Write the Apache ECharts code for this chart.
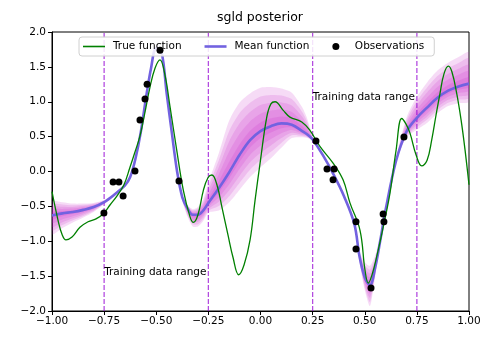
<!DOCTYPE html>
<html>
<head>
<meta charset="utf-8">
<script src="https://cdn.jsdelivr.net/npm/echarts@6/dist/echarts.min.js"></script>
<style>
html, body { margin: 0; padding: 0; background: #fff; }
#chart { width: 498px; height: 343px; }
</style>
</head>
<body>
<div id="chart"></div>
<script>
// posterior mean and spread of the band (outer layer)
const gridX = [-1, -0.95, -0.9, -0.85, -0.8, -0.75, -0.7, -0.65, -0.625, -0.6, -0.575, -0.55, -0.525, -0.5, -0.475, -0.45, -0.425, -0.4, -0.375, -0.35, -0.325, -0.3, -0.275, -0.25, -0.2, -0.15, -0.1, -0.05, 0, 0.05, 0.1, 0.15, 0.2, 0.225, 0.25, 0.3, 0.35, 0.4, 0.45, 0.475, 0.5, 0.525, 0.55, 0.575, 0.6, 0.65, 0.7, 0.75, 0.8, 0.85, 0.9, 0.95, 1];
const meanY = [-0.63, -0.60, -0.58, -0.55, -0.51, -0.44, -0.33, -0.20, -0.08, 0.18, 0.55, 1.04, 1.48, 1.77, 1.72, 1.12, 0.55, 0.0, -0.37, -0.53, -0.62, -0.62, -0.56, -0.45, -0.24, -0.01, 0.24, 0.45, 0.58, 0.65, 0.69, 0.67, 0.58, 0.53, 0.46, 0.23, -0.04, -0.35, -0.75, -1.22, -1.52, -1.63, -1.38, -0.98, -0.55, 0.15, 0.57, 0.77, 0.92, 1.06, 1.16, 1.22, 1.26];
const spreadUp = [0.20, 0.16, 0.12, 0.09, 0.06, 0.03, 0.02, 0.02, 0.02, 0.02, 0.02, 0.02, 0.02, 0.03, 0.02, 0.02, 0.02, 0.02, 0.03, 0.05, 0.08, 0.11, 0.16, 0.29, 0.50, 0.74, 0.75, 0.67, 0.62, 0.56, 0.50, 0.46, 0.34, 0.22, 0.05, 0.02, 0.02, 0.02, 0.03, 0.08, 0.22, 0.28, 0.18, 0.06, 0.03, 0.04, 0.20, 0.30, 0.36, 0.39, 0.40, 0.42, 0.45];
const spreadDown = [0.27, 0.21, 0.15, 0.11, 0.07, 0.03, 0.02, 0.02, 0.02, 0.02, 0.02, 0.02, 0.02, 0.02, 0.02, 0.02, 0.02, 0.02, 0.05, 0.12, 0.17, 0.17, 0.15, 0.14, 0.32, 0.43, 0.50, 0.53, 0.52, 0.46, 0.35, 0.19, 0.09, 0.05, 0.02, 0.02, 0.02, 0.02, 0.03, 0.08, 0.18, 0.30, 0.12, 0.04, 0.03, 0.03, 0.08, 0.17, 0.22, 0.22, 0.22, 0.24, 0.26];
const bandLevels = [1, 0.8, 0.6, 0.4, 0.2];

// true function
const trueX = [-1.0, -0.971, -0.952, -0.933, -0.904, -0.866, -0.827, -0.789, -0.755, -0.722, -0.688, -0.655, -0.626, -0.602, -0.578, -0.554, -0.53, -0.506, -0.482, -0.458, -0.434, -0.402, -0.37, -0.338, -0.322, -0.3, -0.274, -0.252, -0.233, -0.209, -0.185, -0.156, -0.132, -0.105, -0.079, -0.05, -0.026, -0.002, 0.03, 0.05, 0.07, 0.108, 0.141, 0.198, 0.237, 0.285, 0.348, 0.396, 0.429, 0.477, 0.501, 0.517, 0.535, 0.559, 0.589, 0.621, 0.65, 0.677, 0.698, 0.717, 0.746, 0.773, 0.799, 0.821, 0.842, 0.861, 0.88, 0.901, 0.918, 0.941, 0.962, 0.981, 1.0];
const trueY = [-0.29, -0.70, -0.90, -0.98, -0.94, -0.80, -0.72, -0.68, -0.61, -0.48, -0.35, -0.19, 0.06, 0.28, 0.51, 0.85, 1.21, 1.48, 1.60, 1.38, 0.93, 0.31, -0.27, -0.65, -0.73, -0.62, -0.27, -0.09, -0.05, -0.19, -0.51, -0.91, -1.23, -1.48, -1.34, -0.98, -0.41, 0.12, 0.78, 0.97, 1.00, 0.88, 0.78, 0.71, 0.59, 0.36, 0.12, -0.12, -0.45, -0.84, -1.41, -1.60, -1.48, -1.20, -0.79, -0.31, 0.30, 0.76, 0.68, 0.55, 0.24, 0.08, 0.16, 0.45, 0.81, 1.12, 1.40, 1.51, 1.43, 1.12, 0.74, 0.31, -0.19];

// observations
const obsX = [-0.751, -0.707, -0.679, -0.659, -0.602, -0.578, -0.554, -0.544, -0.482, -0.391, 0.266, 0.319, 0.353, 0.348, 0.458, 0.458, 0.530, 0.588, 0.592, 0.688];
const obsY = [-0.595, -0.15, -0.15, -0.35, 0.007, 0.738, 1.04, 1.25, 1.74, -0.136, 0.437, 0.036, 0.036, -0.12, -0.72, -1.11, -1.67, -0.61, -0.72, 0.495];

// training range markers and notes
const rangeX = [-0.75, -0.25, 0.25, 0.75];
const noteX = [-0.75, 0.25];
const noteY = [-1.44, 1.06];
const noteText = ['Training data range', 'Training data range'];

const FONT = 'DejaVu Sans';
const LINE_ICON = 'path://M0,0 L22,0 L22,2.6 L0,2.6 Z';
const THIN_ICON = 'path://M0,0 L22,0 L22,1.6 L0,1.6 Z';

let chart = echarts.init(document.getElementById('chart'), null, { renderer: 'canvas' });

// one polygon per band layer
function bandSeries(k) {
    return {
        type: 'custom',
        silent: true,
        clip: true,
        z: 1,
        data: [[0, 0]],
        renderItem: function (params, api) {
            let pts = [];
            for (let i = 0; i < gridX.length; i++) {
                pts.push(api.coord([gridX[i], meanY[i] + k * spreadUp[i]]));
            }
            for (let i = gridX.length - 1; i >= 0; i--) {
                pts.push(api.coord([gridX[i], meanY[i] - k * spreadDown[i]]));
            }
            return {
                type: 'polygon',
                shape: { points: pts, smooth: 0.25 },
                style: { fill: 'rgba(200, 40, 200, 0.17)' }
            };
        }
    };
}

let series = [];
bandLevels.forEach(k => series.push(bandSeries(k)));

rangeX.forEach(x => {
    series.push({
        type: 'line',
        silent: true,
        z: 2,
        symbol: 'none',
        data: [[x, -2], [x, 2]],
        lineStyle: { color: 'rgba(148, 0, 211, 0.7)', width: 1.3, type: [5, 2] }
    });
});

series.push({
    name: 'Mean function',
    type: 'line',
    z: 3,
    symbol: 'none',
    smooth: 0.35,
    data: gridX.map((x, i) => [x, meanY[i]]),
    lineStyle: { color: '#7262e0', width: 2.6 },
    itemStyle: { color: '#7262e0' }
});

series.push({
    name: 'True function',
    type: 'line',
    z: 4,
    symbol: 'none',
    smooth: 0.4,
    data: trueX.map((x, i) => [x, trueY[i]]),
    lineStyle: { color: '#008000', width: 1.3 },
    itemStyle: { color: '#008000' }
});

series.push({
    name: 'Observations',
    type: 'scatter',
    z: 5,
    symbol: 'circle',
    symbolSize: 7,
    data: obsX.map((x, i) => [x, obsY[i]]),
    itemStyle: { color: '#000', opacity: 1 }
});

series.push({
    type: 'custom',
    silent: true,
    clip: false,
    z: 6,
    data: noteX.map((x, i) => [x, noteY[i]]),
    renderItem: function (params, api) {
        let c = api.coord([api.value(0), api.value(1)]);
        return {
            type: 'text',
            x: c[0],
            y: c[1],
            style: {
                text: noteText[params.dataIndex],
                fill: '#000',
                fontSize: 10.5,
                fontFamily: FONT,
                align: 'left',
                verticalAlign: 'middle'
            }
        };
    }
});

chart.setOption({
    animation: false,
    backgroundColor: '#fff',
    title: {
        text: 'sgld posterior',
        left: 217,
        top: 11,
        padding: 0,
        textStyle: { fontSize: 12.5, fontWeight: 'normal', color: '#000', fontFamily: FONT }
    },
    legend: {
        data: [
            { name: 'True function', icon: THIN_ICON },
            { name: 'Mean function', icon: LINE_ICON },
            { name: 'Observations', icon: 'circle' }
        ],
        left: 79,
        top: 37,
        itemWidth: 22,
        itemHeight: 7,
        itemGap: 23,
        padding: [4, 10, 4, 4],
        backgroundColor: 'rgba(255,255,255,0.85)',
        borderColor: '#d0d0d0',
        borderWidth: 1,
        borderRadius: 3,
        textStyle: { fontSize: 10.5, fontFamily: FONT, color: '#000', padding: [0, 0, 0, 3] }
    },
    grid: {
        left: 52, right: 29, top: 32, bottom: 32,
        show: true, borderColor: '#000', borderWidth: 1, backgroundColor: 'transparent'
    },
    xAxis: {
        type: 'value',
        min: -1, max: 1, interval: 0.25,
        axisLine: { show: true, onZero: false, lineStyle: { color: '#000', width: 1 } },
        axisTick: { show: true, length: 4, lineStyle: { color: '#000' } },
        splitLine: { show: false },
        axisLabel: {
            color: '#000', fontSize: 10.5, fontFamily: FONT, margin: 5,
            formatter: v => (v < 0 ? '\u2212' : '') + Math.abs(v).toFixed(2)
        }
    },
    yAxis: {
        type: 'value',
        min: -2, max: 2, interval: 0.5,
        axisLine: { show: true, onZero: false, lineStyle: { color: '#000', width: 1 } },
        axisTick: { show: true, length: 4, lineStyle: { color: '#000' } },
        splitLine: { show: false },
        axisLabel: {
            color: '#000', fontSize: 10.5, fontFamily: FONT, margin: 6,
            formatter: v => (v < 0 ? '\u2212' : '') + Math.abs(v).toFixed(1)
        }
    },
    series: series
});
</script>
</body>
</html>
